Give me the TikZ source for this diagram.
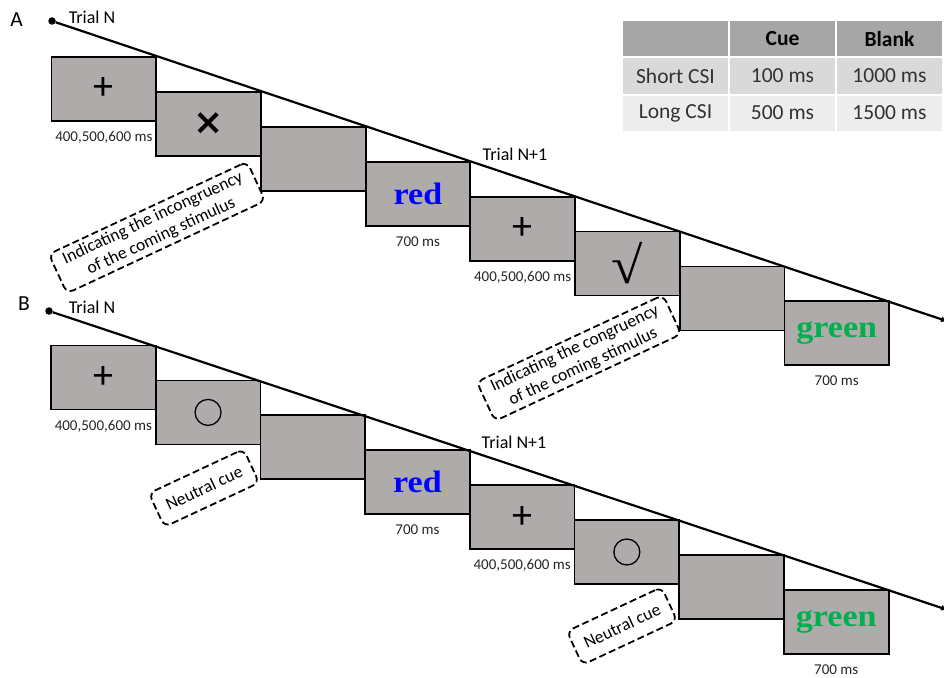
\documentclass[tikz,border=0pt]{standalone}
\usepackage{fontspec}
\setmainfont{Carlito}
\newfontfamily\stimfont[FakeStretch=1.1]{Liberation Serif}
\newfontfamily\symfont{DejaVu Sans}
\usetikzlibrary{positioning,arrows.meta}

\definecolor{screen}{RGB}{175,171,171}
\definecolor{hdrgray}{RGB}{166,166,166}
\definecolor{rowgray}{RGB}{217,217,217}
\definecolor{rowlight}{RGB}{237,237,237}
\definecolor{wordblue}{RGB}{0,0,255}
\definecolor{wordgreen}{RGB}{0,176,80}
\definecolor{celltext}{RGB}{50,50,50}

\begin{document}
\begin{tikzpicture}[
    x=1pt, y=-1pt,
    frame/.style={rectangle, draw, fill=screen, line width=1.8pt, minimum width=104.7pt, minimum height=64pt, inner sep=0pt, outer sep=0pt},
    nextframe/.style={frame, below right=34.9pt and 0pt of #1.north east},
    fixcross/.style={font=\fontsize{40}{40}\selectfont},
    cuecross/.style={font=\symfont\bfseries\fontsize{36}{36}\selectfont},
    cuecheck/.style={font=\stimfont\fontsize{52}{52}\selectfont},
    word/.style={font=\stimfont\bfseries\fontsize{31}{31}\selectfont},
    ring/.style={circle, draw, line width=1.3pt, minimum size=26pt, inner sep=0pt},
    timeline/.style={line width=2.2pt, -{Latex[length=7pt,width=6pt]}},
    onset/.style={circle, fill, inner sep=0pt, minimum size=7.5pt},
    timing/.style={font=\fontsize{15}{15}\selectfont, text=black!85, inner sep=0pt, below=10.5pt of #1},
    trial/.style={font=\fontsize{18}{18}\selectfont, inner sep=0pt},
    panel/.style={font=\fontsize{21.5}{21.5}\selectfont, inner sep=0pt},
    note/.style={draw, dash pattern=on 7pt off 3.5pt, line width=1.8pt, rounded corners=7pt, align=center, font=\fontsize{17.5}{20}\selectfont, inner xsep=11pt, inner ysep=4pt, minimum height=37pt, rotate=25},
    cell/.style={rectangle, draw=white, line width=2pt, minimum width=107pt, minimum height=37pt, inner sep=0pt, outer sep=0pt, font=\fontsize{21.5}{21.5}\selectfont, text=celltext}
]
\useasboundingbox (0,0) rectangle (944,677);

% Panel A
\node[panel] (labA) at (16.5,20) {A};
\node[onset] (dotA) at (52,21) {};
\node[trial] (trialA) at (92,17) {Trial N};
\node[frame, anchor=north west, fixcross] (a1) at (51.5,57) {+};
\node[nextframe=a1, cuecross] (a2) {×};
\node[nextframe=a2] (a3) {};
\node[nextframe=a3, word, text=wordblue] (a4) {red};
\node[nextframe=a4, fixcross] (a5) {+};
\node[nextframe=a5, cuecheck] (a6) {√};
\node[nextframe=a6] (a7) {};
\node[nextframe=a7, word, text=wordgreen] (a8) {green};
\coordinate (endA) at (948,321.5);
\draw[timeline] (dotA) -- (endA);

\node[trial] (trialA2) at (515,154) {Trial N+1};
\node[timing=a1] (ta1) {400,500,600 ms};
\node[timing=a4] (ta4) {700 ms};
\node[timing=a5] (ta5) {400,500,600 ms};
\node[timing=a8] (ta8) {700 ms};

\node[note] (noteA1) at (157,227.5) {Indicating the incongruency\\of the coming stimulus};
\node[note] (noteA2) at (579,358) {Indicating the congruency\\of the coming stimulus};

% Panel B
\node[panel] (labB) at (24,303.5) {B};
\node[onset] (dotB) at (49,311) {};
\node[trial] (trialB) at (92,307) {Trial N};
\node[frame, anchor=north west, fixcross] (b1) at (51,345.5) {+};
\node[nextframe=b1] (b2) {};
\node[nextframe=b2] (b3) {};
\node[nextframe=b3, word, text=wordblue] (b4) {red};
\node[nextframe=b4, fixcross] (b5) {+};
\node[nextframe=b5] (b6) {};
\node[nextframe=b6] (b7) {};
\node[nextframe=b7, word, text=wordgreen] (b8) {green};
\node[ring] (b2ring) at (b2) {};
\node[ring] (b6ring) at (b6) {};
\coordinate (endB) at (948,610);
\draw[timeline] (dotB) -- (endB);

\node[trial] (trialB2) at (514,442) {Trial N+1};
\node[timing=b1] (tb1) {400,500,600 ms};
\node[timing=b4] (tb4) {700 ms};
\node[timing=b5] (tb5) {400,500,600 ms};
\node[timing=b8] (tb8) {700 ms};

\node[note] (noteB1) at (204,488) {Neutral cue};
\node[note] (noteB2) at (622,626) {Neutral cue};

% CSI table
\node[cell, fill=hdrgray] (c11) at (675.5,39) {};
\node[cell, fill=hdrgray, right=0pt of c11, text=black, font=\bfseries\fontsize{21.5}{21.5}\selectfont] (c12) {Cue};
\node[cell, fill=hdrgray, right=0pt of c12, text=black, font=\bfseries\fontsize{21.5}{21.5}\selectfont] (c13) {Blank};
\node[cell, fill=rowgray, below=0pt of c11] (c21) {Short CSI};
\node[cell, fill=rowgray, right=0pt of c21] (c22) {100 ms};
\node[cell, fill=rowgray, right=0pt of c22] (c23) {1000 ms};
\node[cell, fill=rowlight, below=0pt of c21] (c31) {Long CSI};
\node[cell, fill=rowlight, right=0pt of c31] (c32) {500 ms};
\node[cell, fill=rowlight, right=0pt of c32] (c33) {1500 ms};
\end{tikzpicture}
\end{document}
